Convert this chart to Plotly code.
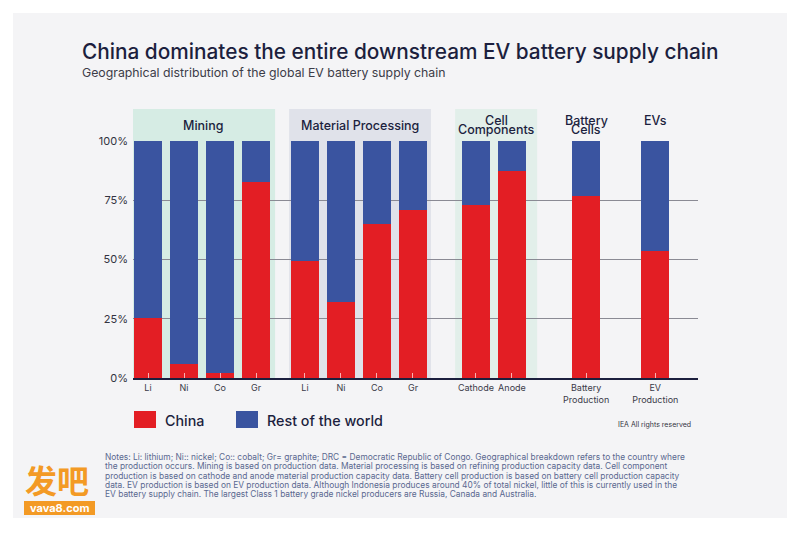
import plotly.graph_objects as go

# data (share of global capacity, %)
GROUPS = ["Mining", "Material Processing", "Cell Components", "Battery Cells", "EVs"]
HEADER_LINES = [["Mining"], ["Material Processing"], ["Cell", "Components"], ["Battery", "Cells"], ["EVs"]]
ITEMS = [
    ["Li", "Ni", "Co", "Gr"],
    ["Li", "Ni", "Co", "Gr"],
    ["Cathode", "Anode"],
    ["Battery<br>Production"],
    ["EV<br>Production"],
]
CHINA = [[25.5, 6, 2, 82.5], [49.5, 32, 65, 71], [73, 87.5], [77], [53.5]]
REST = [[74.5, 94, 98, 17.5], [50.5, 68, 35, 29], [27, 12.5], [23], [46.5]]
Y_TICKS = [0, 25, 50, 75, 100]
Y_LABELS = ["0%", "25%", "50%", "75%", "100%"]
NOTES = [
    "Notes: Li: lithium; Ni:: nickel; Co:: cobalt; Gr= graphite; DRC = Democratic Republic of Congo. Geographical breakdown refers to the country where",
    "the production occurs. Mining is based on production data. Material processing is based on refining production capacity data. Cell component",
    "production is based on cathode and anode material production capacity data. Battery cell production is based on battery cell production capacity",
    "data. EV production is based on EV production data. Although Indonesia produces around 40% of total nickel, little of this is currently used in the",
    "EV battery supply chain. The largest Class 1 battery grade nickel producers are Russia, Canada and Australia.",
]

RED = "#e31e24"
BLUE = "#3a54a0"
NAVY = "#1c1f3e"
FONT = "Inter"

# plot area in page pixels; the page body adds an 8px margin around the figure
PAGE = 8
L, R, T, B = 133, 698, 141, 378
W, H = 800 - 2 * PAGE, 533 - 2 * PAGE


def px(x):
    return (x - L) / (R - L)


def py(y):
    return (B - y) / (B - T)


# bar positions: unit spacing inside a group, wider gaps between groups
GAPS = [1.36, 1.75, 2.06, 1.92]
BOX = [("#d6ece4", 0.42, 0.53), ("#e0e2ea", 0.44, 0.5), ("#e2efea", 0.58, 0.7), None, None]

pos, labels, china, rest = [], [], [], []
group_pos = []
x = 0.0
for g, items in enumerate(ITEMS):
    gp = []
    for i, lab in enumerate(items):
        gp.append(x)
        pos.append(x)
        labels.append(lab)
        china.append(CHINA[g][i])
        rest.append(REST[g][i])
        x += 1
    group_pos.append(gp)
    if g < len(GAPS):
        x = gp[-1] + GAPS[g]

x_range = [-(148 - L) / 36, (R - 148) / 36]

fig = go.Figure()
fig.add_trace(go.Bar(x=pos, y=china, name="China", marker_color=RED,
                     marker_line_width=0, width=0.78, showlegend=False))
fig.add_trace(go.Bar(x=pos, y=rest, name="Rest of the world", marker_color=BLUE,
                     marker_line_width=0, width=0.78, showlegend=False))

shapes = [
    dict(type="rect", xref="paper", yref="paper", x0=px(13), x1=px(787),
         y0=py(518), y1=py(13), fillcolor="#f4f4f6", line_width=0, layer="below"),
]
annotations = []

for g, gp in enumerate(group_pos):
    cx = (gp[0] + gp[-1]) / 2
    if BOX[g]:
        col, pl, pr = BOX[g]
        shapes.append(dict(type="rect", xref="x", yref="paper", x0=gp[0] - pl, x1=gp[-1] + pr,
                           y0=0, y1=py(109), fillcolor=col, line_width=0, layer="below"))
        cx = (gp[0] - pl + gp[-1] + pr) / 2
    lines = HEADER_LINES[g]
    ys = [125.5] if (BOX[g] and len(lines) == 1) else [120.5 + 9.5 * k for k in range(len(lines))]
    for line, yy in zip(lines, ys):
        annotations.append(dict(x=cx, y=py(yy), xref="x", yref="paper", text=line,
                                showarrow=False, xanchor="center", yanchor="middle",
                                font=dict(family=FONT, size=12.5, color=NAVY, weight=500)))

# title, subtitle
annotations += [
    dict(x=px(80), y=py(52), xref="paper", yref="paper", xanchor="left", yanchor="middle",
         text="China dominates the entire downstream EV battery supply chain", showarrow=False,
         font=dict(family=FONT, size=20.8, color=NAVY, weight=500)),
    dict(x=px(80), y=py(73), xref="paper", yref="paper", xanchor="left", yanchor="middle",
         text="Geographical distribution of the global EV battery supply chain", showarrow=False,
         font=dict(family=FONT, size=12.3, color="#3c3c48")),
]

# custom legend
for name, col, x0, tx in [("China", RED, 134, 163), ("Rest of the world", BLUE, 236, 265)]:
    shapes.append(dict(type="rect", xref="paper", yref="paper", x0=px(x0), x1=px(x0 + 22),
                       y0=py(428), y1=py(411), fillcolor=col, line_width=0))
    annotations.append(dict(x=px(tx), y=py(420), xref="paper", yref="paper", xanchor="left",
                            yanchor="middle", text=name, showarrow=False,
                            font=dict(family=FONT, size=14.3, color=NAVY, weight=500)))
annotations.append(dict(x=px(693), y=py(424), xref="paper", yref="paper", xanchor="right",
                        yanchor="middle", text="IEA All rights reserved", showarrow=False,
                        font=dict(family=FONT, size=7, color="#333340")))

for k, line in enumerate(NOTES):
    annotations.append(dict(x=px(103), y=py(457 + 9.3 * k), xref="paper", yref="paper",
                            xanchor="left", yanchor="middle", text=line, showarrow=False,
                            font=dict(family=FONT, size=8.4, color="#5a6890")))

# watermark
shapes.append(dict(type="rect", xref="paper", yref="paper", x0=px(24), x1=px(95),
                   y0=py(515), y1=py(501), fillcolor="#f39a25", line_width=0))
annotations += [
    dict(x=px(57), y=py(479), xref="paper", yref="paper", xanchor="center", yanchor="middle",
         text="发吧", showarrow=False,
         font=dict(family="Noto Sans CJK SC", size=32, color="#f39a25", weight=700)),
    dict(x=px(59.5), y=py(508), xref="paper", yref="paper", xanchor="center", yanchor="middle",
         text="vava8.com", showarrow=False,
         font=dict(family=FONT, size=11, color="white", weight=700)),
]

fig.update_layout(
    width=W, height=H,
    margin=dict(l=L - PAGE, r=800 - PAGE - R, t=T - PAGE, b=533 - PAGE - B),
    barmode="stack", bargap=0,
    paper_bgcolor="white", plot_bgcolor="rgba(0,0,0,0)",
    font=dict(family=FONT, color="#333"),
    shapes=shapes, annotations=annotations,
    xaxis=dict(range=x_range, tickvals=pos, ticktext=labels, ticks="inside", ticklen=5,
               tickcolor="rgba(255,215,215,0.8)", tickwidth=1, showgrid=False,
               showline=True, linecolor=NAVY, linewidth=2,
               tickfont=dict(family=FONT, size=9, color="#3a3a48")),
    yaxis=dict(range=[0, 100], tickvals=Y_TICKS, ticktext=Y_LABELS, showgrid=True,
               gridcolor="#8a8a94", gridwidth=1.3, zeroline=False, ticks="",
               tickfont=dict(family=FONT, size=11, color="#333340"), ticklabelstandoff=4),
)

fig.write_html("out.html")
